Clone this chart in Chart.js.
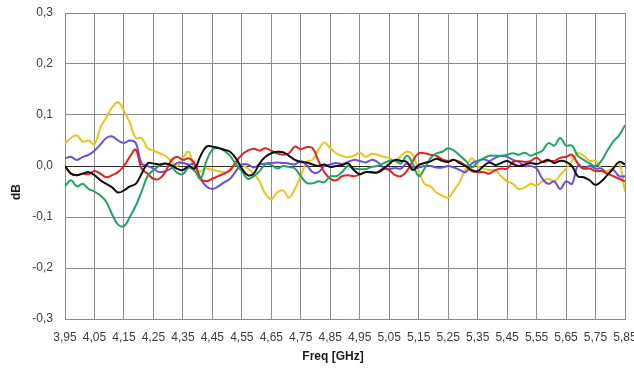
<!DOCTYPE html>
<html>
<head>
<meta charset="utf-8">
<script src="https://cdn.jsdelivr.net/npm/chart.js@4/dist/chart.umd.min.js"></script>
<style>
  html, body { margin: 0; padding: 0; background: #ffffff; }
  #wrap { width: 634px; height: 368px; }
</style>
</head>
<body>
<div id="wrap"><canvas id="c" width="634" height="368"></canvas></div>
<script>
// Frequency sample points [GHz]
const FREQ = [
  3.95, 3.97, 3.99, 4.01, 4.03, 4.05, 4.07, 4.09, 4.11, 4.13,
  4.15, 4.17, 4.19, 4.21, 4.23, 4.25, 4.27, 4.29, 4.31, 4.33,
  4.35, 4.37, 4.39, 4.41, 4.43, 4.45, 4.47, 4.49, 4.51, 4.53,
  4.55, 4.57, 4.59, 4.61, 4.63, 4.65, 4.67, 4.69, 4.71, 4.73,
  4.75, 4.77, 4.79, 4.81, 4.83, 4.85, 4.87, 4.89, 4.91, 4.93,
  4.95, 4.97, 4.99, 5.01, 5.03, 5.05, 5.07, 5.09, 5.11, 5.13,
  5.15, 5.17, 5.19, 5.21, 5.23, 5.25, 5.27, 5.29, 5.31, 5.33,
  5.35, 5.37, 5.39, 5.41, 5.43, 5.45, 5.47, 5.49, 5.51, 5.53,
  5.55, 5.57, 5.59, 5.61, 5.63, 5.65, 5.67, 5.69, 5.71, 5.73,
  5.75, 5.77, 5.79, 5.81, 5.83, 5.85
];

// Deviation traces [dB]
const YELLOW = [
  0.044, 0.055, 0.060, 0.048, 0.050, 0.043, 0.075, 0.095, 0.115, 0.125,
  0.108, 0.085, 0.055, 0.055, 0.035, 0.030, 0.025, 0.020, 0.010, 0.000,
  0.015, 0.028, -0.008, -0.010, -0.005, -0.008, -0.010, -0.012, -0.010, 0.005,
  0.003, -0.005, -0.015, -0.030, -0.055, -0.065, -0.052, -0.048, -0.062, -0.045,
  -0.020, 0.008, 0.012, 0.032, 0.046, 0.035, 0.025, 0.020, 0.017, 0.020,
  0.026, 0.018, 0.024, 0.022, 0.018, 0.016, 0.010, 0.020, 0.028, 0.022,
  -0.010, -0.035, -0.040, -0.052, -0.058, -0.062, -0.048, -0.030, -0.005, 0.015,
  0.000, -0.005, -0.008, -0.008, -0.020, -0.030, -0.035, -0.045, -0.042, -0.035,
  -0.038, -0.030, -0.025, -0.030, -0.018, -0.005, 0.010, 0.025, 0.020, 0.010,
  0.010, -0.005, -0.010, -0.003, 0.005, -0.050
];

const PURPLE = [
  0.015, 0.018, 0.012, 0.018, 0.022, 0.030, 0.042, 0.055, 0.058, 0.050,
  0.045, 0.050, 0.045, 0.005, 0.000, -0.005, -0.012, -0.010, -0.005, 0.006,
  0.006, 0.003, 0.003, -0.025, -0.040, -0.045, -0.040, -0.032, -0.025, -0.010,
  0.003, 0.003, -0.003, 0.003, 0.005, 0.006, 0.007, 0.006, 0.005, 0.003,
  0.010, 0.002, -0.012, -0.012, 0.000, 0.003, 0.006, 0.004, 0.008, 0.012,
  0.010, 0.007, 0.012, 0.008, -0.003, -0.006, -0.004, -0.005, 0.005, -0.003,
  -0.003, 0.000, 0.000, -0.003, -0.003, 0.000, -0.003, -0.008, -0.012, 0.005,
  0.010, 0.013, 0.010, 0.016, 0.020, 0.018, 0.012, 0.008, 0.000, 0.000,
  -0.005, -0.025, -0.035, -0.030, -0.045, -0.030, -0.035, 0.000, -0.005, 0.000,
  -0.005, -0.005, -0.015, -0.008, -0.020, -0.020
];

const RED = [
  0.000, -0.015, -0.018, -0.015, -0.016, -0.010, -0.015, -0.022, -0.018, -0.012,
  0.000, 0.018, 0.032, -0.005, -0.015, -0.025, -0.025, -0.012, 0.010, 0.018,
  0.012, 0.015, 0.005, -0.025, -0.030, -0.025, -0.020, -0.015, -0.008, 0.008,
  0.022, 0.030, 0.034, 0.030, 0.035, 0.030, 0.025, 0.022, 0.025, 0.038,
  0.033, 0.037, 0.035, 0.010, -0.012, -0.025, -0.028, -0.020, -0.018, -0.020,
  -0.017, -0.012, -0.013, -0.012, -0.005, -0.008, -0.018, -0.020, -0.010, 0.010,
  0.025, 0.025, 0.022, 0.020, 0.013, 0.010, 0.012, 0.008, 0.000, -0.010,
  -0.012, -0.012, -0.015, -0.008, -0.005, -0.005, 0.008, 0.010, 0.008, 0.010,
  0.016, 0.008, 0.010, 0.010, 0.016, 0.018, 0.022, 0.005, -0.005, -0.005,
  -0.010, -0.010, -0.015, -0.020, -0.025, -0.030
];

const BLACK = [
  0.000, -0.015, -0.018, -0.015, -0.012, -0.018, -0.028, -0.035, -0.042, -0.052,
  -0.048, -0.040, -0.035, -0.015, 0.005, 0.005, 0.003, 0.005, 0.002, -0.005,
  -0.008, 0.000, -0.005, 0.020, 0.038, 0.038, 0.035, 0.032, 0.028, 0.015,
  -0.005, -0.018, -0.015, 0.005, 0.018, 0.025, 0.028, 0.027, 0.020, 0.012,
  0.008, 0.007, 0.003, 0.000, 0.003, -0.002, 0.000, 0.002, 0.005, -0.008,
  -0.016, -0.012, -0.012, -0.013, -0.006, 0.004, 0.012, 0.010, 0.008, -0.008,
  0.002, 0.006, 0.009, 0.014, 0.010, 0.008, 0.012, 0.005, 0.000, -0.008,
  -0.010, 0.000, 0.007, 0.002, 0.006, 0.010, 0.004, 0.000, 0.003, 0.006,
  0.004, 0.008, 0.012, 0.006, 0.010, 0.008, 0.000, -0.020, -0.022, -0.028,
  -0.037, -0.030, -0.018, -0.005, 0.008, 0.003
];

const GREEN = [
  -0.040, -0.028, -0.040, -0.035, -0.045, -0.050, -0.058, -0.070, -0.095, -0.115,
  -0.118, -0.100, -0.078, -0.050, -0.020, -0.008, 0.000, 0.005, 0.000, -0.013,
  -0.016, -0.003, -0.010, -0.025, 0.010, 0.032, 0.036, 0.030, 0.020, 0.003,
  -0.010, -0.025, -0.020, -0.010, 0.003, 0.002, -0.005, 0.000, -0.002, -0.005,
  -0.020, -0.033, -0.034, -0.030, -0.032, -0.020, -0.020, -0.012, 0.000, -0.005,
  -0.006, -0.006, -0.002, 0.000, 0.005, 0.010, 0.010, 0.005, 0.020, 0.005,
  -0.020, -0.005, 0.015, 0.025, 0.028, 0.035, 0.030, 0.020, 0.010, -0.003,
  0.008, 0.015, 0.020, 0.020, 0.020, 0.022, 0.025, 0.022, 0.026, 0.020,
  0.025, 0.030, 0.045, 0.040, 0.055, 0.040, 0.040, 0.020, 0.012, 0.005,
  0.000, 0.010, 0.030, 0.048, 0.060, 0.080
];

// Axis ticks
const X_TICKS = [3.95, 4.05, 4.15, 4.25, 4.35, 4.45, 4.55, 4.65, 4.75, 4.85,
                 4.95, 5.05, 5.15, 5.25, 5.35, 5.45, 5.55, 5.65, 5.75, 5.85];
const X_LABELS = ['3,95', '4,05', '4,15', '4,25', '4,35', '4,45', '4,55', '4,65', '4,75', '4,85',
                  '4,95', '5,05', '5,15', '5,25', '5,35', '5,45', '5,55', '5,65', '5,75', '5,85'];
const Y_TICKS = [-0.3, -0.2, -0.1, 0, 0.1, 0.2, 0.3];
const Y_LABELS = ['-0,3', '-0,2', '-0,1', '0,0', '0,1', '0,2', '0,3'];

const FONT = '"Liberation Sans", Arial, sans-serif';

function series(values) {
  return values.map((v, i) => ({ x: FREQ[i], y: v }));
}

function trace(label, values, color) {
  return {
    label: label,
    data: series(values),
    borderColor: color,
    backgroundColor: color,
    borderWidth: 2,
    pointRadius: 0,
    tension: 0.4,
    fill: false
  };
}

// Axis titles placed under / beside the plot
const axisTitles = {
  id: 'axisTitles',
  afterDraw(chart) {
    const ctx = chart.ctx;
    const area = chart.chartArea;
    ctx.save();
    ctx.fillStyle = '#1a1a1a';
    ctx.font = 'bold 12px ' + FONT;
    ctx.textAlign = 'center';
    ctx.textBaseline = 'middle';
    ctx.fillText('Freq [GHz]', area.left + 268, area.bottom + 38);
    ctx.translate(17, area.top + 179);
    ctx.rotate(-Math.PI / 2);
    ctx.fillText('dB', 0, 0);
    ctx.restore();
  }
};

new Chart(document.getElementById('c'), {
  type: 'line',
  data: {
    datasets: [
      trace('Black', BLACK, '#111111'),
      trace('Green', GREEN, '#1fa463'),
      trace('Red', RED, '#e2231d'),
      trace('Purple', PURPLE, '#6c4fdc'),
      trace('Yellow', YELLOW, '#f0c21c')
    ]
  },
  options: {
    responsive: false,
    animation: false,
    events: [],
    layout: { padding: { top: 13, right: 9, left: 0, bottom: 0 } },
    plugins: {
      legend: { display: false },
      tooltip: { enabled: false },
      title: { display: false }
    },
    scales: {
      x: {
        type: 'linear',
        min: 3.95,
        max: 5.85,
        afterBuildTicks(scale) {
          scale.ticks = X_TICKS.map(v => ({ value: v }));
        },
        afterFit(scale) {
          scale.height = 49;
          scale.paddingLeft = 0;
          scale.paddingRight = 0;
        },
        grid: { color: '#8a8a8a', lineWidth: 1, drawTicks: false },
        border: { display: true, color: '#8a8a8a' },
        ticks: {
          autoSkip: false,
          maxRotation: 0,
          padding: 11,
          color: '#3c3c3c',
          font: { family: FONT, size: 12 },
          callback: (v, i) => X_LABELS[i]
        }
      },
      y: {
        type: 'linear',
        min: -0.3,
        max: 0.3,
        afterBuildTicks(scale) {
          scale.ticks = Y_TICKS.map(v => ({ value: v }));
        },
        afterFit(scale) {
          scale.width = 65;
          scale.paddingTop = 0;
          scale.paddingBottom = 0;
        },
        grid: {
          color: ctx => (ctx.tick && ctx.tick.value === 0 ? '#2a2a2a' : '#8a8a8a'),
          lineWidth: 1,
          drawTicks: false
        },
        border: { display: true, color: '#8a8a8a' },
        ticks: {
          padding: 12,
          color: '#3c3c3c',
          font: { family: FONT, size: 12 },
          callback: (v, i) => Y_LABELS[i]
        }
      }
    }
  },
  plugins: [axisTitles]
});
</script>
</body>
</html>
